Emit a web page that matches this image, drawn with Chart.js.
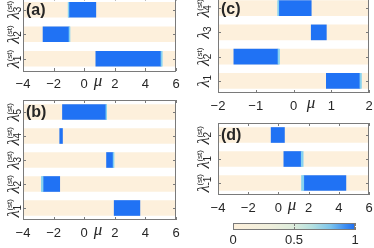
<!DOCTYPE html>
<html>
<head>
<meta charset="utf-8">
<script src="https://cdn.jsdelivr.net/npm/chart.js@4.4.0/dist/chart.umd.min.js"></script>
<style>
  html, body { margin: 0; padding: 0; background: #fff; width: 374px; height: 248px; overflow: hidden; }
  canvas { position: absolute; left: 0; top: -10px; }
</style>
</head>
<body>
<canvas id="pa" width="374" height="268"></canvas>
<canvas id="pb" width="374" height="268"></canvas>
<canvas id="pc" width="374" height="268"></canvas>
<canvas id="pd" width="374" height="268"></canvas>
<canvas id="cb" width="374" height="268"></canvas>
<script>
// panel (a): rows top -> bottom
const aSubs = ['3', '2', '1'];
const aStar = [true, true, true];
const aStart = [-1.0, -2.69, 0.76];
const aEnd = [0.76, -0.99, 5.02];
const aEdge = [[-1.05, -1.0], [-0.99, -0.93], [5.02, 5.1]];

// panel (b)
const bSubs = ['5', '4', '3', '2', '1'];
const bStar = [true, true, true, true, true];
const bStart = [-1.42, -1.6, 1.46, -2.69, 1.96];
const bEnd = [1.42, -1.42, 1.89, -1.6, 3.64];
const bEdge = [[1.42, 1.47], null, [1.89, 1.95], [-2.8, -2.69], null];

// panel (c)
const cSubs = ['4', '3', '2', '1'];
const cStar = [true, false, true, false];
const cStart = [-0.39, 0.47, -1.58, 0.87];
const cEnd = [0.47, 0.87, -0.41, 1.76];
const cEdge = [[-0.42, -0.39], null, [-0.41, -0.37], [1.76, 1.8]];

// panel (d)
const dSubs = ['2', '1', '-1'];
const dStar = [true, true, true];
const dStart = [-0.48, 0.36, 1.68];
const dEnd = [0.4, 1.51, 4.47];
const dEdge = [null, [1.51, 1.64], [1.53, 1.68]];

// colour bar
const cbTicks = [0, 0.5, 1];

const BEIGE = '#fdf0dc';
const BLUE = '#2072f4';
const EDGE = '#86d2f0';
const AXIS = '#7a7a7a';
const TXT = '#262626';
const TICKFONT = { family: 'Liberation Sans', size: 13 };

function drawLambda(ctx, x, y, sub, star) {
  ctx.save();
  ctx.translate(x, y);
  ctx.rotate(-Math.PI / 2);
  ctx.fillStyle = TXT;
  ctx.textBaseline = 'alphabetic';
  ctx.textAlign = 'left';
  ctx.font = 'italic 17px "Liberation Serif"';
  const wl = ctx.measureText('λ').width;
  ctx.font = '10px "Liberation Sans"';
  const ws = ctx.measureText(sub).width;
  ctx.font = '8px "Liberation Sans"';
  const wu = star ? ctx.measureText('(st)').width : 0;
  const total = wl + Math.max(ws, wu);
  const s = -total / 2;
  ctx.font = 'italic 17px "Liberation Serif"';
  ctx.fillText('λ', s, 5);
  ctx.font = '10px "Liberation Sans"';
  ctx.fillText(sub, s + wl - 0.5, 6.5);
  if (star) {
    ctx.font = '8px "Liberation Sans"';
    ctx.fillText('(st)', s + wl - 0.5, -2);
  }
  ctx.restore();
}

function decoPlugin(o) {
  return {
    id: 'deco',
    afterDraw(chart) {
      const ctx = chart.ctx;
      const a = chart.chartArea;
      const xs = chart.scales.x;
      const ys = chart.scales.y;
      ctx.save();
      ctx.strokeStyle = AXIS;
      ctx.lineWidth = 1;
      ctx.strokeRect(Math.round(a.left) + 0.5, Math.round(a.top) + 0.5,
        Math.round(a.right - a.left) - 1, Math.round(a.bottom - a.top) - 1);
      ctx.beginPath();
      xs.ticks.forEach(t => {
        const px = Math.round(xs.getPixelForValue(t.value)) + 0.5;
        ctx.moveTo(px, a.bottom); ctx.lineTo(px, a.bottom - 3);
        ctx.moveTo(px, a.top); ctx.lineTo(px, a.top + 3);
      });
      if (o.subs) {
        o.subs.forEach((s, i) => {
          const py = Math.round(ys.getPixelForTick(i)) + 0.5;
          ctx.moveTo(a.left, py); ctx.lineTo(a.left + 3, py);
          ctx.moveTo(a.right, py); ctx.lineTo(a.right - 3, py);
        });
      }
      ctx.stroke();
      if (o.subs) {
        o.subs.forEach((s, i) => {
          drawLambda(ctx, a.left - o.labOff - 5, ys.getPixelForTick(i), s, o.star[i]);
        });
        ctx.fillStyle = TXT;
        ctx.font = 'bold 16px "Liberation Sans"';
        ctx.textBaseline = 'middle';
        ctx.textAlign = 'left';
        ctx.fillText(o.tag, a.left + 3, ys.getPixelForTick(0) + 1);
        ctx.font = 'italic 17px "Liberation Serif"';
        ctx.textAlign = 'center';
        ctx.textBaseline = 'alphabetic';
        ctx.fillText('μ', o.muX, a.bottom + 15);
      }
      ctx.restore();
    }
  };
}

const AXH = 24;
const fmt = v => String(v).replace('-', '\u2212');

function makePanel(id, o) {
  const labels = o.subs.map(s => 'λ' + s);
  new Chart(document.getElementById(id), {
    type: 'bar',
    data: {
      labels: labels,
      datasets: [
        { data: o.edge, backgroundColor: EDGE, grouped: false, barThickness: 15, order: 1 },
        { data: o.start.map((v, i) => [v, o.end[i]]), backgroundColor: BLUE, grouped: false, barThickness: 15, order: 2 },
        { data: labels.map(() => [o.min, o.max]), backgroundColor: BEIGE, grouped: false, barThickness: 15, order: 3 }
      ]
    },
    options: {
      indexAxis: 'y',
      responsive: false,
      animation: false,
      devicePixelRatio: 1,
      layout: { padding: { left: o.box[0], right: 374 - o.box[1], top: o.box[2] + 10, bottom: 258 - o.box[3] - AXH } },
      plugins: { legend: { display: false }, tooltip: { enabled: false } },
      scales: {
        x: {
          type: 'linear', min: o.min, max: o.max,
          ticks: { stepSize: o.step, font: TICKFONT, color: TXT, padding: -2, autoSkip: false, maxRotation: 0,
            callback: fmt },
          grid: { display: false }, border: { display: false },
          afterFit: s => { s.height = AXH; }
        },
        y: { type: 'category', display: false, offset: true }
      }
    },
    plugins: [decoPlugin(o)]
  });
}

makePanel('pa', { subs: aSubs, star: aStar, start: aStart, end: aEnd, edge: aEdge,
  min: -4, max: 6, step: 2, box: [23, 176, -2.5, 71], labOff: 4, tag: '(a)', muX: 98 });
makePanel('pb', { subs: bSubs, star: bStar, start: bStart, end: bEnd, edge: bEdge,
  min: -4, max: 6, step: 2, box: [23, 176, 100, 220], labOff: 4, tag: '(b)', muX: 98 });
makePanel('pc', { subs: cSubs, star: cStar, start: cStart, end: cEnd, edge: cEdge,
  min: -2, max: 2, step: 1, box: [218, 369, -4, 93], labOff: 9, tag: '(c)', muX: 311 });
makePanel('pd', { subs: dSubs, star: dStar, start: dStart, end: dEnd, edge: dEdge,
  min: -4, max: 6, step: 2, box: [218, 369, 123, 195], labOff: 9, tag: '(d)', muX: 292 });

// colour bar
const CBH = 18;
new Chart(document.getElementById('cb'), {
  type: 'bar',
  data: {
    labels: ['c'],
    datasets: [{
      data: [[cbTicks[0], cbTicks[cbTicks.length - 1]]],
      barPercentage: 1, categoryPercentage: 1,
      backgroundColor: c => {
        const ca = c.chart.chartArea;
        if (!ca) return BEIGE;
        const g = c.chart.ctx.createLinearGradient(ca.left, 0, ca.right, 0);
        g.addColorStop(0, '#fdf0db');
        g.addColorStop(0.3, '#f0efdc');
        g.addColorStop(0.5, '#dcecdc');
        g.addColorStop(0.65, '#b4e0e0');
        g.addColorStop(0.8, '#7cc4ec');
        g.addColorStop(0.92, '#3e8ef2');
        g.addColorStop(1, '#1f6ff2');
        return g;
      }
    }]
  },
  options: {
    indexAxis: 'y',
    responsive: false,
    animation: false,
    devicePixelRatio: 1,
    layout: { padding: { left: 233, right: 374 - 355, top: 223 + 10, bottom: 258 - 230 - CBH } },
    plugins: { legend: { display: false }, tooltip: { enabled: false } },
    scales: {
      x: {
        type: 'linear', min: 0, max: 1,
        ticks: { stepSize: 0.5, font: TICKFONT, color: TXT, padding: -5, autoSkip: false, maxRotation: 0,
          callback: v => cbTicks.includes(v) ? String(v) : '' },
        grid: { display: false }, border: { display: false },
        afterFit: s => { s.height = CBH; }
      },
      y: { type: 'category', display: false, offset: true }
    }
  },
  plugins: [decoPlugin({})]
});
</script>
</body>
</html>
